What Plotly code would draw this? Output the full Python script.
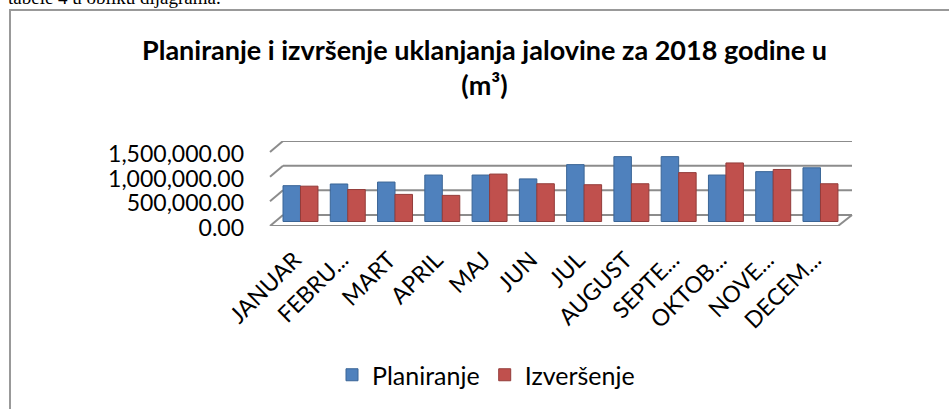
import plotly.graph_objects as go

# ---- data ----
months = ["JANUAR", "FEBRU...", "MART", "APRIL", "MAJ", "JUN", "JUL",
          "AUGUST", "SEPTE...", "OKTOB...", "NOVE...", "DECEM..."]
planiranje = [740000, 775000, 815000, 960000, 960000, 880000, 1175000,
              1340000, 1340000, 960000, 1030000, 1110000]
izvrsenje = [730000, 660000, 560000, 540000, 980000, 780000, 760000,
             780000, 1010000, 1210000, 1075000, 780000]
y_ticks = [0, 500000, 1000000, 1500000]
y_tick_text = ["0.00", "500,000.00", "1,000,000.00", "1,500,000.00"]

title_text = "Planiranje i izvršenje uklanjanja jalovine za 2018 godine u<br>(m³)"
series_names = ["Planiranje", "Izveršenje"]
colors = ["#4F81BD", "#C0504D"]
edge_colors = ["#3A6596", "#933C3A"]

# ---- layout geometry (pixels) ----
W, H = 949, 409
L, R, T, B = 270, 852, 141, 226
FONT = "Lato"


def xp(px):
    return (px - L) / (R - L)


def yp(py):
    return (B - py) / (B - T)


# back-wall scale: 0 at 215 px, 1.5M at 141 px
per_px_back = 1500000 / (215 - T)
y_range = [-(B - 215) * per_px_back, 1500000]
# mid-depth scale for the columns: 0 at 221.5 px, 24.2 px per 500k
per_px_mid = 500000 / 24.2
y2_range = [-(B - 221.5) * per_px_mid, (221.5 - T) * per_px_mid]

fig = go.Figure()
for name, vals, c, ec in zip(series_names, [planiranje, izvrsenje], colors, edge_colors):
    fig.add_trace(go.Bar(
        x=months, y=vals, name=name, yaxis="y2",
        marker=dict(color=c, line=dict(color=ec, width=1)),
    ))

grid_col = "#8C8C8C"
shapes = []
for v in y_ticks:
    shapes.append(dict(type="line", xref="paper", yref="y", x0=xp(283), x1=1,
                       y0=v, y1=v, line=dict(color=grid_col, width=2), layer="below"))
    shapes.append(dict(type="line", xref="paper", yref="y", ysizemode="pixel", yanchor=v,
                       x0=0, x1=xp(283), y0=-11, y1=0,
                       line=dict(color=grid_col, width=2), layer="below"))
# floor front edge and right side
shapes.append(dict(type="line", xref="paper", yref="y", ysizemode="pixel", yanchor=0,
                   x0=0, x1=xp(838), y0=-11, y1=-11,
                   line=dict(color=grid_col, width=2), layer="below"))
shapes.append(dict(type="line", xref="paper", yref="y", ysizemode="pixel", yanchor=0,
                   x0=xp(838), x1=1, y0=-11, y1=0,
                   line=dict(color=grid_col, width=2), layer="below"))
# chart frame
shapes.append(dict(type="rect", xref="paper", yref="paper",
                   x0=xp(10), x1=xp(980), y0=yp(10), y1=yp(440),
                   line=dict(color="#999999", width=2), fillcolor="rgba(0,0,0,0)", layer="below"))

annotations = [
    dict(text="<b>" + title_text.replace("<br>", "</b><br><b>") + "</b>",
         xref="paper", yref="paper", x=xp(484), y=yp(67),
         xanchor="center", yanchor="middle", showarrow=False,
         font=dict(family=FONT, size=27, color="#000000")),
    dict(text="tabele 4 u obliku dijagrama.", xref="paper", yref="paper",
         x=xp(6), y=yp(10), xanchor="left", yanchor="bottom", showarrow=False,
         font=dict(family="Liberation Serif", size=19, color="#000000")),
]

fig.update_layout(
    width=W, height=H,
    margin=dict(l=L, r=W - R, t=T, b=H - B, pad=0),
    paper_bgcolor="white", plot_bgcolor="white",
    barmode="group", bargap=0.26, bargroupgap=0,
    showlegend=True,
    legend=dict(orientation="h", x=xp(486), xanchor="center", y=yp(375), yanchor="middle",
                font=dict(family=FONT, size=25, color="#000000"),
                traceorder="normal", itemwidth=30),
    xaxis=dict(type="category", range=[-0.645, 11.667], showgrid=False, showline=False,
               zeroline=False, ticks="", tickangle=-45,
               tickfont=dict(family=FONT, size=23, color="#000000"),
               ticklabelshift=-6, ticklabelstandoff=15),
    yaxis=dict(range=y_range, tickvals=y_ticks, ticktext=y_tick_text, showgrid=False,
               zeroline=False, showline=False, ticks="",
               tickfont=dict(family=FONT, size=23, color="#000000"),
               ticklabelshift=13, ticklabelstandoff=25),
    yaxis2=dict(range=y2_range, overlaying="y", visible=False, showgrid=False,
                zeroline=False),
    shapes=shapes, annotations=annotations,
    font=dict(family=FONT),
)

fig.write_html("out.html", config={"displayModeBar": False},
               post_script="document.body.style.margin='0';")
